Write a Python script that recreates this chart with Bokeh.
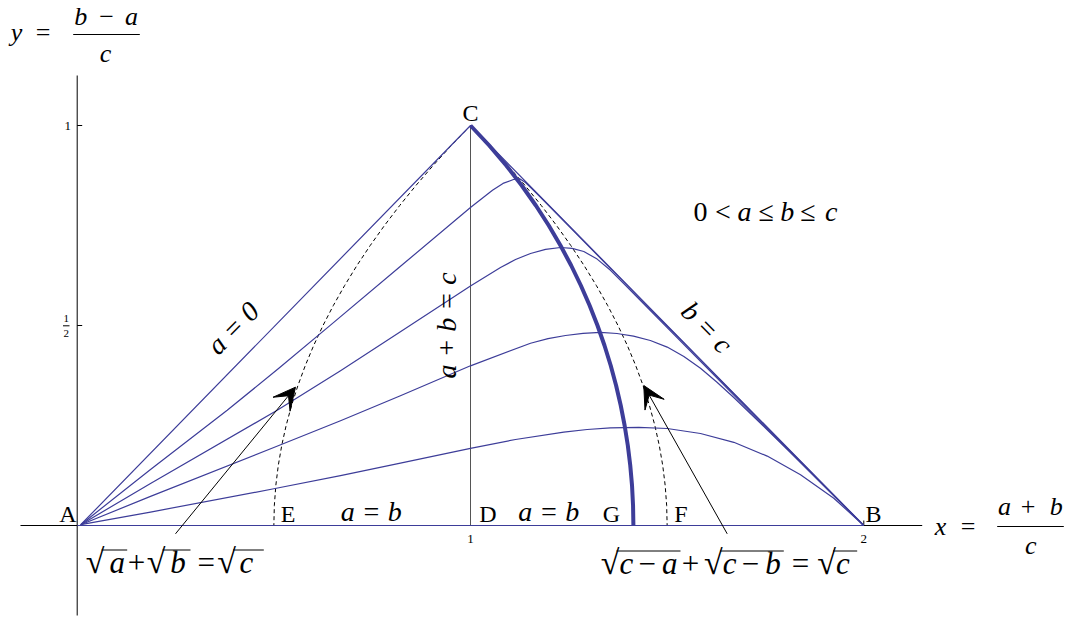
from bokeh.plotting import figure
from bokeh.models import Range1d, ColumnDataSource, Arrow, VeeHead
from bokeh.core.properties import value, field
from bokeh.embed import file_html
from bokeh.resources import INLINE

# ---------------- data ----------------
# coordinates: x = (a+b)/c , y = (b-a)/c
side_x = [0.009, 1.0, 2.0]                 # a = 0 (A -> C), b = c (C -> B)
side_y = [0.002, 1.0, 0.0]
base_x = [0.0, 2.0]                        # a = b (A -> B)
base_y = [0.0, 0.0]
apbc_x = [1.0, 1.0]                        # a + b = c  (D -> C)
apbc_y = [0.0, 1.0]

curve2_x = [0.009, 0.1864, 0.3814, 0.5127, 0.6440, 0.8220, 0.9999, 1.0559, 1.0826, 1.1093, 1.1250,
            1.1398, 1.1550, 1.1780, 1.3306, 1.5848, 1.8391, 2.0]
curve2_y = [0.002, 0.1400, 0.2880, 0.3930, 0.5010, 0.6480, 0.7950, 0.8380, 0.8553, 0.8650, 0.8668,
            0.8575, 0.8430, 0.8205, 0.6680, 0.4140, 0.1600, 0.0]

curve3_x = [0.009, 0.1864, 0.5085, 0.6695, 0.8218, 0.9999, 1.0763, 1.1145, 1.1526, 1.1908, 1.2289,
            1.2585, 1.2881, 1.3220, 1.3559, 1.3940, 1.4322, 1.5848, 1.8391, 2.0]
curve3_y = [0.002, 0.1052, 0.2880, 0.3870, 0.4842, 0.5990, 0.6450, 0.6650, 0.6800, 0.6905, 0.6950,
            0.6930, 0.6850, 0.6660, 0.6380, 0.6005, 0.5625, 0.4105, 0.1574, 0.0]

curve4_x = [0.009, 0.1864, 0.4999, 0.6695, 0.8218, 0.9999, 1.1526, 1.1971, 1.2416, 1.2861, 1.3306,
            1.3725, 1.4144, 1.4573, 1.5001, 1.5425, 1.5848, 1.6268, 1.6687, 1.7544, 1.8391, 1.9154, 2.0]
curve4_y = [0.002, 0.0727, 0.1950, 0.2620, 0.3244, 0.3992, 0.4557, 0.4670, 0.4750, 0.4805, 0.4828,
            0.4800, 0.4735, 0.4625, 0.4460, 0.4225, 0.3930, 0.3580, 0.3205, 0.2395, 0.1577, 0.0831, 0.0]

curve5_x = [0.009, 0.1864, 0.4999, 0.6695, 0.8218, 0.9999, 1.1144, 1.2372, 1.2966, 1.3559, 1.4280,
            1.5001, 1.5848, 1.6695, 1.7544, 1.8391, 1.9237, 2.0]
curve5_y = [0.002, 0.0336, 0.0918, 0.1249, 0.1560, 0.1930, 0.2150, 0.2335, 0.2400, 0.2440, 0.2455,
            0.2425, 0.2300, 0.2080, 0.1735, 0.1268, 0.0682, 0.0]

# thick curve C -> G  (a^2 + b^2 = c^2)
circle_x = [1.0, 1.0476, 1.0909, 1.1303, 1.1662, 1.1990, 1.2288, 1.2560, 1.2806, 1.3029, 1.3229,
            1.3407, 1.3565, 1.3702, 1.3820, 1.3919, 1.4000, 1.4062, 1.4107, 1.4133, 1.4142]
circle_y = [1.0, 0.95, 0.9, 0.85, 0.8, 0.75, 0.7, 0.65, 0.6, 0.55, 0.5,
            0.45, 0.4, 0.35, 0.3, 0.25, 0.2, 0.15, 0.1, 0.05, 0.0]

# dashed C -> E  (sqrt a + sqrt b = sqrt c)
dashE_x = [1.0, 0.95125, 0.905, 0.86125, 0.82, 0.78125, 0.745, 0.71125, 0.68, 0.65125, 0.625,
           0.60125, 0.58, 0.56125, 0.545, 0.53125, 0.52, 0.51125, 0.505, 0.50125, 0.5]
dashE_y = [1.0, 0.95, 0.9, 0.85, 0.8, 0.75, 0.7, 0.65, 0.6, 0.55, 0.5,
           0.45, 0.4, 0.35, 0.3, 0.25, 0.2, 0.15, 0.1, 0.05, 0.0]
# dashed C -> F  (sqrt(c-a) + sqrt(c-b) = sqrt c)
dashF_x = [1.0, 1.04875, 1.095, 1.13875, 1.18, 1.21875, 1.255, 1.28875, 1.32, 1.34875, 1.375,
           1.39875, 1.42, 1.43875, 1.455, 1.46875, 1.48, 1.48875, 1.495, 1.49875, 1.5]
dashF_y = dashE_y

# arrows (tail -> tip)
arrow_tail_x = [0.2499, 1.6527]
arrow_tail_y = [-0.0208, -0.0208]
arrow_tip_x = [0.5550, 1.4406]
arrow_tip_y = [0.3458, 0.3500]

# axes and ticks
x_axis_ext = [-0.1442, 2.1485]
y_axis_ext = [-0.2250, 1.1250]
x_ticks = [1, 2]
x_tick_labels = ["1", "2"]
y_ticks = [0.5, 1]
y_tick_labels = ["1/2", "1"]

# ---------------- layout ----------------
W, H = 1068, 619
PX0, PXS = 76.7, 393.3      # page pixel of x = 0, pixels per unit
PY0, PYS = 525.0, 400.0     # page pixel of y = 0, pixels per unit
BASE_SHIFT = 0.33           # alphabetic baseline correction (em)


def X(px):
    return (px - PX0) / PXS


def Y(py):
    return (PY0 - py) / PYS


BLUE = "#3d3d99"
SERIF = "Liberation Serif"

p = figure(width=W, height=H, x_range=Range1d(X(0), X(W)), y_range=Range1d(Y(H), Y(0)),
           min_border=0, toolbar_location=None, output_backend="svg",
           x_axis_location=None, y_axis_location=None)
p.xgrid.visible = False
p.ygrid.visible = False
p.outline_line_color = None
p.background_fill_color = "white"
p.border_fill_color = "white"

# axes
p.line(x_axis_ext, [0, 0], line_color="black", line_width=1)
p.line([0, 0], y_axis_ext, line_color="black", line_width=1)
tx = 5 / PXS
ty = 5 / PYS
p.segment(x0=x_ticks, y0=[0] * len(x_ticks), x1=x_ticks, y1=[ty] * len(x_ticks), line_color="black", line_width=1)
p.segment(x0=[0] * len(y_ticks), y0=y_ticks, x1=[tx] * len(y_ticks), y1=y_ticks, line_color="black", line_width=1)

# a + b = c
p.line(apbc_x, apbc_y, line_color="#555555", line_width=1)

# dashed curves
p.line(dashE_x, dashE_y, line_color="black", line_width=1, line_dash="4 3")
p.line(dashF_x, dashF_y, line_color="black", line_width=1, line_dash="4 3")

# family of curves
for cx, cy in [(curve2_x, curve2_y), (curve3_x, curve3_y), (curve4_x, curve4_y), (curve5_x, curve5_y)]:
    p.line(cx, cy, line_color=BLUE, line_width=1.2, line_join="round")
p.line(side_x, side_y, line_color=BLUE, line_width=1.2)
p.line(base_x, base_y, line_color=BLUE, line_width=1.2)
p.line(circle_x, circle_y, line_color=BLUE, line_width=4, line_join="round")

# arrows
for i in range(len(arrow_tail_x)):
    p.add_layout(Arrow(end=VeeHead(size=22, fill_color="black", line_color="black", line_width=1),
                       x_start=arrow_tail_x[i], y_start=arrow_tail_y[i],
                       x_end=arrow_tip_x[i], y_end=arrow_tip_y[i],
                       line_color="black", line_width=1))


def add_text(items, size, angle=0.0, baseline="alphabetic", align="center"):
    shift = BASE_SHIFT * size if baseline == "alphabetic" else 0.0
    src = ColumnDataSource(dict(x=[X(t[0]) for t in items], y=[Y(t[1] - shift) for t in items],
                                text=[t[2] for t in items], style=[t[3] for t in items]))
    p.text(x="x", y="y", text="text", source=src, text_font=value(SERIF),
           text_font_size=f"{size}px", text_font_style=field("style"),
           text_align=align, text_baseline=baseline, angle=angle, text_color="black")


def add_bars(bars, width=1.0):
    src = ColumnDataSource(dict(x0=[X(b[0]) for b in bars], x1=[X(b[1]) for b in bars],
                                y=[Y(b[2]) for b in bars]))
    p.segment(x0="x0", y0="y", x1="x1", y1="y", source=src, line_color="black", line_width=width)


# tick labels
xt_items = [(PX0 + v * PXS, 542.5, s, "normal") for v, s in zip(x_ticks, x_tick_labels)]
add_text(xt_items, 13)
for v, s in zip(y_ticks, y_tick_labels):
    py = PY0 - v * PYS
    if "/" in s:
        num, den = s.split("/")
        add_text([(65.7, py - 3.5, num, "normal"), (65.7, py + 11.5, den, "normal")], 11)
        add_bars([(62.5, 69.0, py + 0.3)])
    else:
        add_text([(70.5, py + 5.0, s, "normal")], 13, align="right")

# point labels
add_text([(67.5, 521, "A", "normal"), (873, 521, "B", "normal"), (470, 120.7, "C", "normal"),
          (487.5, 521, "D", "normal"), (287.5, 521, "E", "normal"), (680.5, 521, "F", "normal"),
          (611, 521, "G", "normal")], 24)

# a = b labels
add_text([(370.8, 520.7, "a = b", "italic"), (548.3, 520.7, "a = b", "italic")], 28)

# rotated labels
ang = 0.7941
add_text([(232.5, 327.5, "a = 0", "italic")], 28, angle=ang, baseline="middle")
add_text([(446.0, 325.0, "a + b = c", "italic")], 28, angle=1.5708, baseline="middle")
add_text([(706.5, 327.0, "b = c", "italic")], 28, angle=-ang, baseline="middle")

# 0 < a <= b <= c
add_text([(700, 220.7, "0", "normal"), (722.5, 220.7, "<", "normal"), (744, 220.7, "a", "italic"),
          (765.8, 220.7, "≤", "normal"), (786.7, 220.7, "b", "italic"), (807.5, 220.7, "≤", "normal"),
          (830.8, 220.7, "c", "italic")], 28)

# sqrt a + sqrt b = sqrt c
add_text([(94.5, 572, "√", "normal"), (155.5, 572, "√", "normal"), (226.0, 572, "√", "normal")], 34)
add_text([(116.7, 572, "a", "italic"), (136.0, 572, "+", "normal"),
          (177.5, 572, "b", "italic"), (205.8, 572, "=", "normal"),
          (245.8, 572, "c", "italic")], 31)
add_bars([(101.0, 126.7, 549.5), (162.0, 190.0, 549.5), (232.5, 263.3, 549.5)])

# sqrt(c-a) + sqrt(c-b) = sqrt c
add_text([(609.5, 573.3, "√", "normal"), (712.8, 573.3, "√", "normal"), (826.1, 573.3, "√", "normal")], 34)
add_text([(625.8, 573.3, "c", "italic"), (646.7, 573.3, "−", "normal"),
          (669.2, 573.3, "a", "italic"), (690.0, 573.3, "+", "normal"),
          (729.2, 573.3, "c", "italic"), (750.0, 573.3, "−", "normal"), (772.5, 573.3, "b", "italic"),
          (800.0, 573.3, "=", "normal"), (842.5, 573.3, "c", "italic")], 31)
add_bars([(616.0, 680.0, 550.5), (719.5, 783.3, 550.5), (832.5, 856.7, 550.5)])

# axis labels
add_text([(16, 40.7, "y", "italic"), (42.5, 40.7, "=", "normal"), (80.3, 25, "b", "italic"),
          (106, 25, "−", "normal"), (131, 25, "a", "italic"), (105, 61.7, "c", "italic")], 26)
add_bars([(72.7, 139.3, 34.0)])
add_text([(940, 534.3, "x", "italic"), (967.5, 534.3, "=", "normal"), (1004, 515, "a", "italic"),
          (1027.5, 515, "+", "normal"), (1055.8, 515, "b", "italic"), (1030.3, 554, "c", "italic")], 26)
add_bars([(996.7, 1063.3, 526.0)])

open("out.html", "w").write(file_html(p, INLINE))
